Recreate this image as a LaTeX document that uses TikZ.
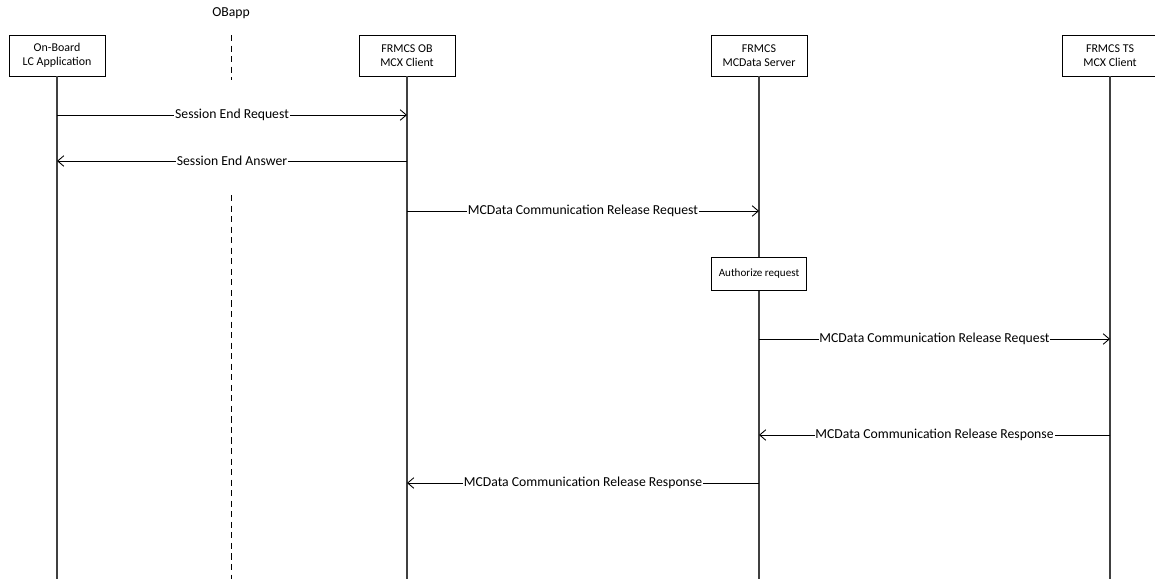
\documentclass[tikz,border=0pt]{standalone}
\usepackage{fontspec}
\setmainfont{Carlito}
\usetikzlibrary{arrows.meta}

\tikzset{
  actor/.style={draw, line width=0.5pt, minimum width=1.92cm, minimum height=0.82cm,
    align=center, inner sep=1pt, font=\fontsize{6.8}{7.8}\selectfont},
  lifeline/.style={draw=black!75, line width=0.6pt},
  msg/.style={line width=0.5pt, -{Straight Barb[length=3.5pt,width=6pt]}},
  msglabel/.style={fill=white, inner sep=0.5pt, font=\fontsize{7.8}{9}\selectfont},
}

\begin{document}
\begin{tikzpicture}[x=0.02cm, y=-0.02cm]
  \useasboundingbox (0,0) rectangle (1155,579);

  % participants
  \node[actor] (lca) at (57,55.5) {On-Board\\LC Application};
  \node[font=\fontsize{7.8}{9}\selectfont] (obapp) at (231,13) {OBapp};
  \node[actor] (obclient) at (407,55.5) {FRMCS OB\\MCX Client};
  \node[actor] (server) at (759,55.5) {FRMCS\\MCData Server};
  \node[actor] (tsclient) at (1110,55.5) {FRMCS TS\\MCX Client};

  % lifelines
  \foreach \p in {lca, obclient, server, tsclient} {
      \coordinate (\p-end) at (\p |- 0,579);
      \draw[lifeline] (\p) -- (\p-end);
  }
  \coordinate (obapp-a) at (231,35);
  \coordinate (obapp-b) at (231,80);
  \coordinate (obapp-c) at (231,195);
  \coordinate (obapp-d) at (231,579);
  \draw[line width=0.5pt, dash pattern=on 3.5pt off 2.5pt] (obapp-a) -- (obapp-b);
  \draw[line width=0.5pt, dash pattern=on 3.5pt off 2.5pt] (obapp-c) -- (obapp-d);

  % processing step
  \node[actor, minimum width=1.9cm, minimum height=0.66cm, font=\fontsize{6.3}{7}\selectfont, fill=white]
    (auth) at (759,274) {Authorize request};

  % messages
  \foreach \y/\from/\to/\txt in {
      115/lca/obclient/Session End Request,
      161/obclient/lca/Session End Answer,
      211/obclient/server/MCData Communication Release Request,
      339/server/tsclient/MCData Communication Release Request,
      435/tsclient/server/MCData Communication Release Response,
      483/server/obclient/MCData Communication Release Response} {
      \draw[msg] (\from |- 0,\y) -- node[msglabel] {\txt} (\to |- 0,\y);
  }
\end{tikzpicture}
\end{document}
